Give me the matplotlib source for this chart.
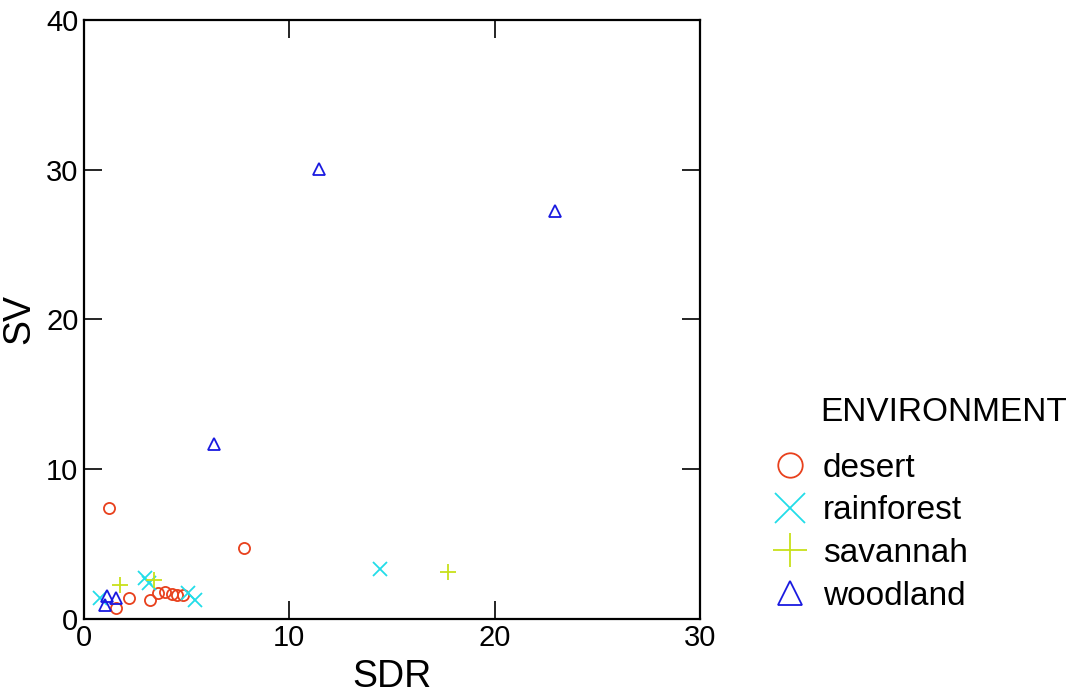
import numpy as np
import matplotlib.pyplot as plt

plt.rcParams['font.family'] = ['Liberation Sans', 'DejaVu Sans']

# SDR / SV values, one pair of lists per environment
desert_sdr = [1.23, 7.78, 2.21, 1.56, 3.21, 3.62, 3.95, 4.27, 4.52, 4.84]
desert_sv = [7.43, 4.72, 1.38, 0.75, 1.27, 1.72, 1.82, 1.65, 1.60, 1.56]

rainforest_sdr = [0.78, 2.95, 3.15, 5.08, 5.41, 14.42]
rainforest_sv = [1.38, 2.75, 2.40, 1.72, 1.27, 3.34]

savannah_sdr = [1.75, 3.42, 17.75]
savannah_sv = [2.27, 2.60, 3.09]

woodland_sdr = [1.11, 1.56, 1.02, 6.33, 11.45, 22.94]
woodland_sv = [1.49, 1.38, 0.93, 11.69, 30.05, 27.25]

fig = plt.figure(figsize=(10.91, 6.96), dpi=100)
ax = fig.add_axes([0.077, 0.111, 0.5646, 0.8603])

ms = 8
ax.plot(desert_sdr, desert_sv, linestyle='none', marker='o', ms=ms,
        mfc='none', mec='#e8401c', mew=1.3, label='desert')
ax.plot(rainforest_sdr, rainforest_sv, linestyle='none', marker='x', ms=ms + 2,
        color='#22dde8', mew=1.3, label='rainforest')
ax.plot(savannah_sdr, savannah_sv, linestyle='none', marker='+', ms=ms + 3,
        color='#c8e01a', mew=1.3, label='savannah')
ax.plot(woodland_sdr, woodland_sv, linestyle='none', marker='^', ms=ms,
        mfc='none', mec='#1a1ae0', mew=1.3, label='woodland')

ax.set_xlim(0, 30)
ax.set_ylim(0, 40)
ax.set_xticks([0, 10, 20, 30])
ax.set_yticks([0, 10, 20, 30, 40])
ax.tick_params(direction='in', length=13, width=1.2, labelsize=21,
               top=True, right=True, pad=4)
for s in ax.spines.values():
    s.set_linewidth(1.6)

ax.set_xlabel('SDR', fontsize=27, labelpad=5)
ax.set_ylabel('SV', fontsize=27, labelpad=6)

fig.text(820 / 1091, 1 - 413 / 696, 'ENVIRONMENT', fontsize=24,
         ha='left', va='center')
leg = fig.legend(loc='upper left', bbox_to_anchor=(753 / 1091, 1 - 436 / 696),
                 frameon=False, fontsize=24, markerscale=2.2, borderpad=0,
                 handlelength=1.2, handletextpad=0.4, labelspacing=0.35)

fig.savefig('out.png', dpi=100)
